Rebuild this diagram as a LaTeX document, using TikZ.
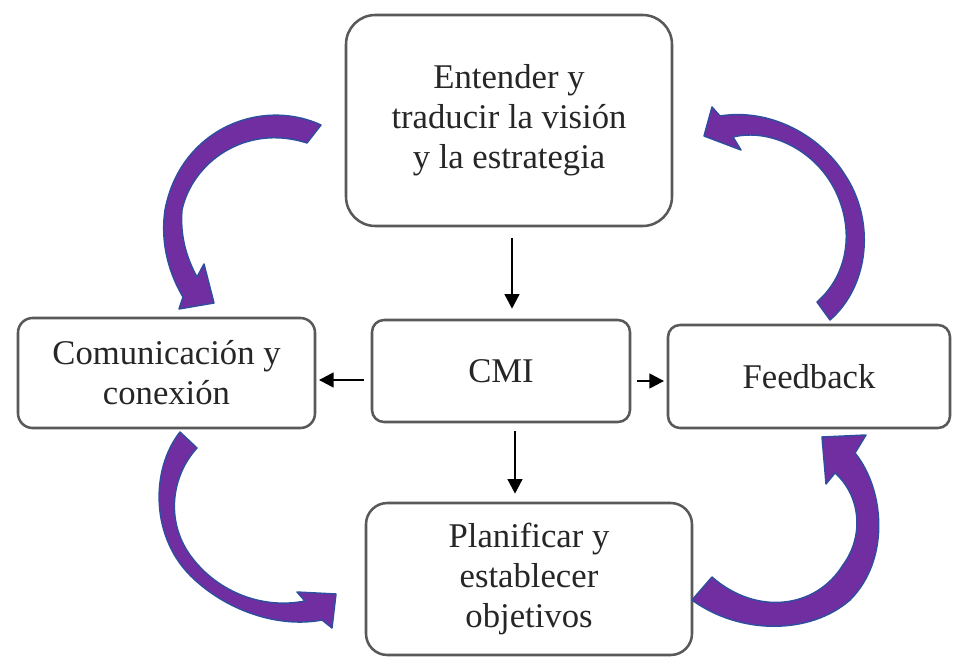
\documentclass[tikz,border=0pt]{standalone}
\usepackage{fontspec}
\setmainfont{Liberation Serif}
\usetikzlibrary{arrows.meta}

\definecolor{cmipurple}{RGB}{112,46,160}
\definecolor{cmiblue}{RGB}{48,78,160}

\tikzset{
  box/.style={draw=black!65, line width=1.9pt, fill=white, align=center,
    text=black!85, font=\fontsize{26}{30}\selectfont, inner sep=0pt},
  link/.style={line width=1.8pt, -{Triangle[length=11pt,width=11pt]}},
  loop arrow/.style={fill=cmipurple, draw=cmiblue, line width=1.1pt, line join=round}
}

\begin{document}
\begin{tikzpicture}[x=0.75pt, y=-0.75pt]

\useasboundingbox (0,0) rectangle (953,667);

% Boxes
\node [box, rounded corners=22pt, minimum width=244.5pt, minimum height=158.25pt]
  (vision) at (509,120.5) {Entender y\\traducir la visión\\y la estrategia};
\node [box, rounded corners=9pt, minimum width=193.5pt, minimum height=76.5pt]
  (cmi) at (501,371) {CMI};
\node [box, rounded corners=11pt, minimum width=222.75pt, minimum height=82.5pt]
  (comunic) at (166.5,373) {Comunicación y\\conexión};
\node [box, rounded corners=9pt, minimum width=211.5pt, minimum height=77.25pt]
  (feedback) at (809,376.5) {Feedback};
\node [box, rounded corners=16pt, minimum width=244.5pt, minimum height=114pt]
  (planif) at (529,579) {Planificar y\\establecer\\objetivos};

% Straight arrows from the centre
\draw [link, shorten <=8pt, shorten >=7.5pt]
  ([xshift=2.25pt]vision.south) -- ([xshift=2.25pt]vision.south |- cmi.north);
\draw [link, shorten <=5pt, shorten >=2pt]
  ([yshift=-6.75pt]cmi.west) -- ([yshift=-6.75pt]cmi.west -| comunic.east);
\draw [link, shorten <=4.5pt, shorten >=2pt]
  ([yshift=-7.5pt]cmi.east) -- ([yshift=-7.5pt]cmi.east -| feedback.west);
\draw [link, shorten <=6pt, shorten >=6pt]
  ([xshift=10.5pt]cmi.south) -- ([xshift=10.5pt]cmi.south |- planif.north);

% Curved arrows round the cycle
% top left
\draw [loop arrow] (321,125) .. controls (260,97) and (180,130) .. (165,210)
  .. controls (160,245) and (170,275) .. (183,297)
  -- (179,309) -- (214,303) -- (204,264) -- (197,277)
  .. controls (186,257) and (180,235) .. (182,210)
  .. controls (192,163) and (245,123) .. (307,143) -- cycle;
% top right
\draw [loop arrow] (830,320) .. controls (870,285) and (875,220) .. (845,175)
  .. controls (820,135) and (770,108) .. (720,116)
  -- (712,107) -- (704,136) -- (741,150) -- (733,137)
  .. controls (770,128) and (815,150) .. (835,190)
  .. controls (855,230) and (848,275) .. (817,302) -- cycle;
% bottom left
\draw [loop arrow] (180,432) .. controls (150,470) and (150,540) .. (195,580)
  .. controls (230,612) and (280,628) .. (322,620)
  -- (332,628) -- (336,594) -- (297,592) -- (305,601)
  .. controls (260,610) and (215,590) .. (190,555)
  .. controls (165,520) and (172,475) .. (197,448) -- cycle;
% bottom right
\draw [loop arrow] (692,600) .. controls (740,635) and (810,635) .. (850,600)
  .. controls (890,560) and (885,490) .. (855,453)
  -- (866,435) -- (822,437) -- (826,484) -- (835,473)
  .. controls (860,495) and (865,535) .. (843,565)
  .. controls (815,610) and (755,615) .. (712,577) -- cycle;

\end{tikzpicture}
\end{document}
